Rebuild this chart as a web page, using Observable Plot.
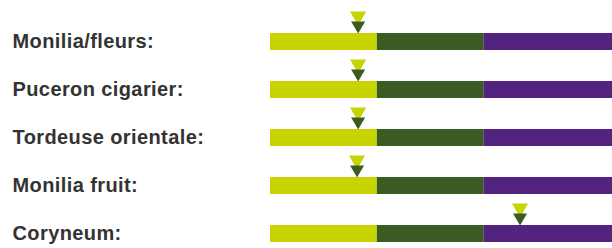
<!DOCTYPE html>
<html>
<head>
<meta charset="utf-8">
<script src="https://cdn.jsdelivr.net/npm/d3@7"></script>
<script src="https://cdn.jsdelivr.net/npm/@observablehq/plot@0.6"></script>
<style>
  html, body { margin: 0; padding: 0; background: #fff; }
</style>
</head>
<body>
<div id="chart"></div>
<script>
// Pest / disease names (row labels)
const categories = ["Monilia/fleurs:", "Puceron cigarier:", "Tordeuse orientale:", "Monilia fruit:", "Coryneum:"];
// Risk level bands
const levelNames = ["faible", "moyen", "élevé"];
const levelStarts = [0, 1, 2];
const levelEnds = [1, 2, 3.2];
const levelColors = ["#c8d400", "#3c5a23", "#53247f"];
// Current risk position for each row
const markerValues = [0.82, 0.82, 0.82, 0.81, 2.335];

const bars = categories.flatMap(c =>
  levelNames.map((l, i) => ({category: c, level: l, x1: levelStarts[i], x2: levelEnds[i]}))
);
const markers = categories.map((c, i) => ({category: c, value: markerValues[i]}));

const upperTriangle = {
  draw(ctx) { ctx.moveTo(-8, -7); ctx.lineTo(8, -7); ctx.lineTo(0, 7); ctx.closePath(); }
};
const lowerTriangle = {
  draw(ctx) { ctx.moveTo(-7, -6); ctx.lineTo(7, -6); ctx.lineTo(0, 6); ctx.closePath(); }
};

const chart = Plot.plot({
  width: 612,
  height: 248,
  marginLeft: 270,
  marginRight: 0,
  marginTop: 0,
  marginBottom: 0,
  style: {fontFamily: "'Liberation Sans', Arial, Helvetica, sans-serif", background: "#fff", letterSpacing: "0.4px"},
  x: {domain: [0, 3.2], axis: null},
  y: {domain: categories, range: [33, 242], paddingInner: 0.646, paddingOuter: 0, round: false},
  color: {domain: levelNames, range: levelColors},
  marks: [
    Plot.barX(bars, {x1: "x1", x2: "x2", y: "category", fill: "level", insetTop: 0, insetBottom: 0, insetLeft: 0, insetRight: 0}),
    Plot.axisY({tickSize: 0, tickPadding: 258, textAnchor: "start", fontSize: 20, fontWeight: "bold", color: "#333", label: null}),
    Plot.dot(markers, {x: "value", y: "category", symbol: upperTriangle, fill: "#c8d400", stroke: "none", dy: -23.5}),
    Plot.dot(markers, {x: "value", y: "category", symbol: lowerTriangle, fill: "#3c5a23", stroke: "none", dy: -14.5})
  ]
});
document.getElementById("chart").appendChild(chart);
</script>
</body>
</html>
